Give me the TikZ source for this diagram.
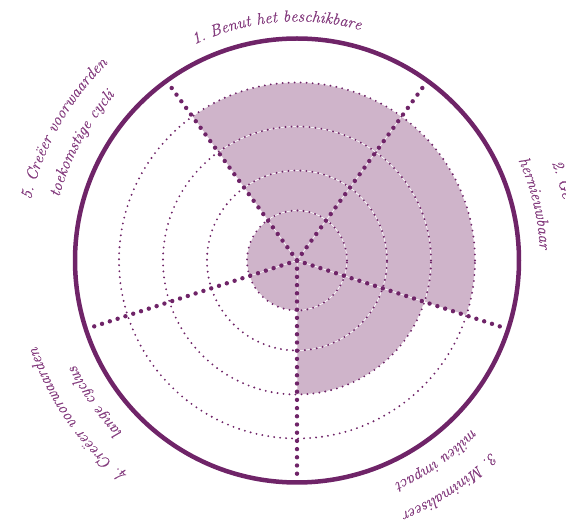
\documentclass[tikz,border=0pt]{standalone}
\usepackage{fontspec}
\newfontfamily\lblfam{Latin Modern Roman}[ItalicFeatures={FakeBold=0.45}]
\usetikzlibrary{decorations.text}
\definecolor{plum}{HTML}{6F2468}
\definecolor{plumfill}{HTML}{CFB4CA}
\definecolor{plumtext}{HTML}{843C7E}
\newcommand\lblfont{\lblfam\fontsize{16.2}{19}\selectfont\itshape}
\tikzset{
  ring/.style={draw=plum, line width=2.1pt, line cap=round, dash pattern=on 0pt off 6pt},
  spoke/.style={draw=plum, line width=4.4pt, line cap=round, dash pattern=on 0pt off 8.2pt},
  rim/.style={draw=plum, line width=4.5pt},
  seg/.style={fill=plumfill, draw=white, line width=0.5pt},
  lbl/.style={decorate, decoration={text along path, text color=plumtext, text align=center, text={#1}}},
  lblleft/.style={decorate, decoration={text along path, text color=plumtext, text align=left, text={#1}}},
}
\begin{document}
\begin{tikzpicture}[x=1pt,y=1pt]
\useasboundingbox (0,0) rectangle (566,525);
\clip (0,0) rectangle (566,525);
\coordinate (C) at (297,264.5);
% filled sectors
\foreach \a/\b/\n in {54/126/4, -18/54/4, -90/-18/3, 198/270/1, 126/198/1}{
  \foreach \ri/\ro [count=\k] in {0.01/50, 50/90, 90/134, 134/178}{
    \ifnum\k>\n\relax\else
      \path[seg] ([shift={(\a:\ri)}]C) arc[start angle=\a, end angle=\b, radius=\ri]
        -- ([shift={(\b:\ro)}]C) arc[start angle=\b, end angle=\a, radius=\ro] -- cycle;
    \fi
  }
}
% dotted rings
\foreach \r in {50,90,134,178} \draw[ring] (C) circle[radius=\r];
% spokes
\foreach \ang [count=\i] in {126,54,-18,-90,198} \coordinate (s\i) at ([shift={(\ang:215)}]C);
\foreach \i in {1,...,5} \draw[spoke] (C) -- (s\i);
% rim
\draw[rim] (C) circle[radius=222];
% labels
\path[lbl={|\lblfont|1. Benut het beschikbare}] ([shift={(135:239)}]C) arc[start angle=135, end angle=55, radius=239];
\path[lblleft={|\lblfont|2. Ge}] ([shift={(21:273)}]C) arc[start angle=21, end angle=-20, radius=273];
\path[lbl={|\lblfont|hernieuwbaar}] ([shift={(40:243)}]C) arc[start angle=40, end angle=-13, radius=243];
\path[lbl={|\lblfont|3. Minimaliseer}] ([shift={(-26:273)}]C) arc[start angle=-26, end angle=-86, radius=273];
\path[lbl={|\lblfont|milieu impact}] ([shift={(-25:243)}]C) arc[start angle=-25, end angle=-85, radius=243];
\path[lbl={|\lblfont|4. Creëer voorwaarden}] ([shift={(-115:274)}]C) arc[start angle=-115, end angle=-175, radius=274];
\path[lbl={|\lblfont|lange cyclus}] ([shift={(-115:245)}]C) arc[start angle=-115, end angle=-175, radius=245];
\path[lbl={|\lblfont|5. Creëer voorwaarden}] ([shift={(180.5:273)}]C) arc[start angle=180.5, end angle=120.5, radius=273];
\path[lbl={|\lblfont|toekomstige cycli}] ([shift={(181.5:246)}]C) arc[start angle=181.5, end angle=121.5, radius=246];
\end{tikzpicture}
\end{document}
